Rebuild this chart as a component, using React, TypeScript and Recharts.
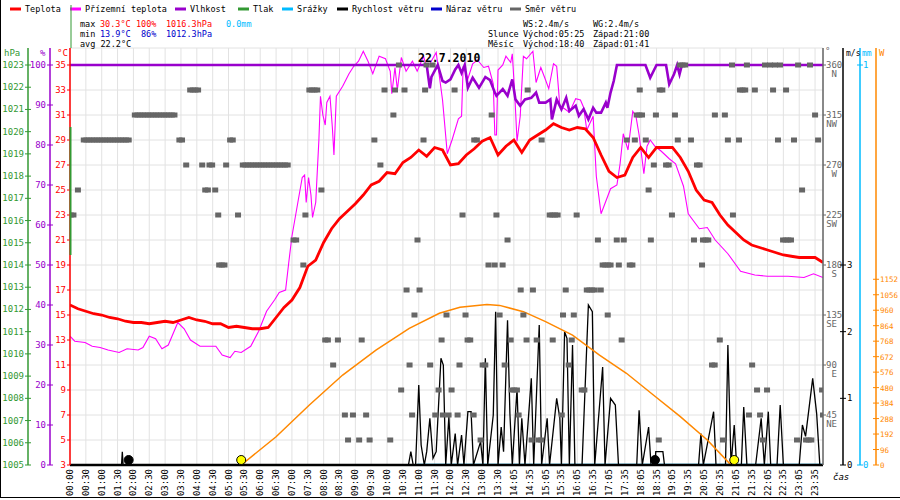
import React from 'react';
import { ComposedChart, Line, Scatter, XAxis, YAxis, CartesianGrid, ReferenceDot } from 'recharts';

const MONO = '"DejaVu Sans Mono", monospace';

// x values are half-hour slots (0 = 00:00), one label per slot
const timeLabels = [
  '00:00', '00:30', '01:00', '01:30', '02:00', '02:30', '03:00', '03:30', '04:00', '04:30',
  '05:00', '05:30', '06:00', '06:30', '07:00', '07:30', '08:00', '08:30', '09:00', '09:30',
  '10:00', '10:30', '11:00', '11:30', '12:00', '12:30', '13:00', '13:30', '14:05', '14:35',
  '15:05', '15:35', '16:05', '16:35', '17:05', '17:35', '18:05', '18:35', '19:05', '19:35',
  '20:05', '20:35', '21:05', '21:35', '22:05', '22:35', '23:05', '23:35',
];

// Teplota, every quarter slot (0, 0.5, 1 ... 47.5)
const tempValues = [
  15.8, 15.5, 15.3, 15.1, 15.0, 14.8, 14.7, 14.5, 14.4, 14.4,
  14.3, 14.4, 14.5, 14.4, 14.6, 14.8, 14.6, 14.5, 14.3, 14.3,
  14.0, 14.1, 14.0, 13.9, 13.9, 14.0, 14.8, 15.6, 16.2, 17.2,
  18.9, 19.4, 20.8, 21.9, 22.7, 23.3, 23.9, 24.6, 25.4, 25.7,
  26.4, 26.3, 27.2, 27.6, 28.2, 27.7, 28.4, 28.2, 27.0, 27.1,
  27.8, 28.3, 28.9, 29.2, 27.8, 28.5, 29.0, 28.0, 29.0, 29.4,
  29.8, 30.3, 30.0, 29.8, 30.0, 29.9, 29.2, 27.8, 26.5, 26.0,
  26.2, 27.6, 28.4, 27.6, 28.4, 28.4, 28.4, 27.6, 26.5, 25.0,
  24.2, 24.0, 23.0, 22.2, 21.6, 21.0, 20.6, 20.4, 20.2, 20.0,
  19.8, 19.7, 19.6, 19.6, 19.6, 19.2,
];

// Přízemní teplota [slot, °C]
const feelsLike: [number, number][] = [
  [0, 13.3], [0.3, 12.9], [0.95, 12.8], [1.4, 12.5], [1.9, 12.4], [2.4, 12.2], [3.1, 12.0], [3.6, 12.3],
  [4.3, 12.2], [4.6, 12.4], [5.0, 13.3], [5.4, 13.1], [5.8, 12.3], [6.2, 12.6], [6.8, 14.4], [7.2, 13.9],
  [7.6, 13.0], [8.2, 12.5], [8.6, 12.5], [9.2, 12.5], [9.6, 11.8], [10.1, 11.6], [10.4, 12.1], [10.8, 12.0],
  [11.4, 12.5], [11.9, 13.7], [12.4, 15.3], [12.9, 16.2], [13.2, 16.8], [13.6, 17.0], [13.8, 19.2], [14.0, 21.3],
  [14.4, 24.2], [14.65, 26.0], [14.8, 26.2], [14.9, 24.0], [15.05, 26.0], [15.2, 24.6], [15.3, 22.8], [15.5, 24.0],
  [15.7, 29.0], [15.8, 32.5], [15.95, 31.0], [16.1, 30.2], [16.2, 32.0], [16.4, 32.5], [16.55, 30.0], [16.65, 27.8],
  [16.8, 32.5], [17.2, 33.3], [17.6, 34.3], [17.9, 34.9], [18.2, 35.3], [18.5, 36.1], [18.8, 35.3], [19.1, 34.3],
  [19.5, 35.7], [19.9, 35.5], [20.2, 34.5], [20.3, 32.7], [20.5, 34.8], [20.65, 33.0], [20.9, 35.6], [21.2, 34.5],
  [21.6, 35.3], [21.9, 34.5], [22.3, 35.7], [22.5, 34.8], [22.7, 35.1], [23.1, 36.0], [23.5, 32.2], [23.8, 27.9],
  [24.1, 29.0], [24.5, 30.7], [24.7, 30.9], [24.8, 34.9], [25.1, 33.9], [25.4, 35.1], [25.7, 35.4], [26.1, 34.8],
  [26.4, 34.9], [26.7, 33.5], [26.8, 29.4], [26.9, 29.4], [27.0, 34.6], [27.3, 35.0], [27.5, 35.7], [27.8, 35.2],
  [27.9, 35.9], [28.05, 32.8], [28.2, 28.9], [28.4, 30.9], [28.6, 35.7], [28.8, 35.5], [29.2, 36.1], [29.4, 33.6],
  [29.7, 34.8], [30.0, 33.8], [30.2, 33.1], [30.5, 35.1], [30.7, 34.9], [30.9, 31.7], [31.2, 31.5], [31.5, 31.2],
  [31.9, 32.3], [32.2, 32.2], [32.4, 31.6], [32.6, 29.8], [33.0, 30.9], [33.2, 26.1], [33.5, 23.1], [33.8, 24.1],
  [34.1, 25.1], [34.5, 25.4], [34.7, 27.1], [34.9, 29.5], [35.2, 28.2], [35.5, 31.3], [35.7, 30.9], [35.9, 29.4],
  [36.2, 26.3], [36.4, 28.5], [36.6, 29.0], [36.9, 28.5], [37.3, 28.1], [37.8, 27.5], [38.2, 27.1], [38.7, 25.3],
  [39.0, 23.1], [39.7, 21.9], [40.2, 22.0], [40.7, 21.0], [41.5, 19.9], [42.3, 18.5], [43.2, 18.2], [44.0, 18.1],
  [45.3, 18.1], [46.3, 18.0], [46.9, 18.3], [47.5, 18.0],
];

// Vlhkost [slot, %]
const humidity: [number, number][] = [
  [0, 100], [22.5, 100], [22.7, 94.2], [22.8, 97], [23.2, 100], [23.5, 96], [23.7, 95.6], [24.0, 96.4],
  [24.3, 98.9], [24.5, 100], [24.7, 98], [24.9, 100], [25.1, 94.3], [25.4, 96.8], [25.8, 94.3], [26.2, 97],
  [26.5, 96.2], [26.8, 93.1], [26.9, 92.3], [27.3, 94], [27.6, 92.3], [27.9, 96.4], [28.1, 91.4], [28.4, 89.8],
  [28.7, 91.4], [29.1, 91.8], [29.4, 93.1], [29.6, 90.6], [30.0, 90.6], [30.3, 91.4], [30.4, 86.4], [30.7, 91.4],
  [31.0, 88.9], [31.3, 91.8], [31.5, 88.5], [31.9, 89.8], [32.1, 87.3], [32.4, 89], [32.7, 86.4], [33.0, 89.3],
  [33.2, 88.1], [33.5, 88.1], [33.8, 90.6], [33.9, 89.3], [34.1, 93.1], [34.3, 96], [34.5, 100], [36.3, 100],
  [36.6, 96.8], [37.0, 100], [37.6, 100], [37.8, 95.2], [38.1, 97.7], [38.3, 100], [38.45, 97.7], [38.6, 100],
  [47.5, 100],
];

// Rychlost větru [slot, m/s]
const windSpeed: [number, number][] = [
  [0, 0], [3.25, 0], [3.3, 0.2], [3.35, 0], [21.35, 0], [21.5, 0.2], [21.65, 0], [21.8, 0], [22.0, 1.2],
  [22.15, 0.3], [22.35, 0], [22.5, 0.2], [22.7, 0.7], [22.9, 0.1], [23.1, 0.2], [23.4, 1.6], [23.55, 1.5],
  [23.7, 0], [23.9, 0.72], [24.05, 0], [24.3, 0.47], [24.45, 0], [24.7, 0.45], [24.85, 0], [25.1, 0.8],
  [25.3, 0.8], [25.45, 0], [25.9, 0.35], [26.05, 0], [26.2, 1.6], [26.35, 0], [26.7, 0.75], [26.85, 2.3],
  [27.0, 0], [27.2, 0.57], [27.35, 0.2], [27.6, 2.17], [27.75, 0.77], [27.9, 0], [28.2, 1.15], [28.35, 0],
  [28.5, 0.7], [28.7, 0], [29.1, 1.3], [29.25, 0], [29.6, 2.1], [29.75, 0], [30.1, 0.7], [30.25, 0],
  [30.7, 1.0], [30.9, 0.7], [31.0, 0], [31.2, 2.0], [31.35, 1.9], [31.5, 0], [31.7, 1.8], [31.85, 0],
  [32.3, 0], [32.7, 2.4], [32.95, 2.3], [33.1, 0], [33.6, 1.47], [33.75, 0], [34.1, 1.0], [34.4, 0.9],
  [34.6, 0], [35.75, 0], [35.9, 0.82], [36.1, 0], [36.5, 0.57], [36.65, 0], [36.9, 0], [36.95, 0.2],
  [37.4, 0.2], [37.5, 0], [39.65, 0], [39.8, 0.47], [39.95, 0], [40.6, 0.8], [40.75, 0], [41.35, 0],
  [41.5, 1.8], [41.7, 0], [41.9, 0.6], [42.05, 0], [42.35, 0], [42.5, 0.87], [42.7, 0], [43.25, 0],
  [43.4, 0.3], [43.6, 0.7], [43.8, 0], [44.05, 0.8], [44.2, 0], [44.6, 0], [44.8, 0.9], [45.0, 0],
  [46.0, 0], [46.2, 0.6], [46.4, 0.43], [46.85, 1.3], [47.1, 0.77], [47.3, 0], [47.5, 0],
];

// sluneční záření [slot, W]
const solar: [number, number][] = [
  [10.8, 0], [13.0, 175], [15.1, 372], [17.2, 558], [19.3, 713], [21.4, 848], [23.3, 941], [24.6, 978],
  [26.3, 996], [27.1, 990], [28.6, 951], [30.0, 889], [31.7, 806], [33.4, 682], [35.1, 569], [36.8, 434],
  [38.5, 300], [40.2, 155], [41.6, 10], [41.7, 0],
];

// Srážky [slot, mm]
const rainfall: [number, number][] = [[21.9, 0], [47.5, 0]];

// Směr větru as runs of 5-minute samples: [from slot, to slot, compass step of 22.5°]
const windDirRuns: [number, number, number][] = [
  [20.75, 20.75, 16], [22.49, 22.49, 16], [22.87, 22.87, 16], [38.47, 38.91, 16], [41.76, 41.76, 16],
  [42.7, 42.7, 16], [43.84, 43.84, 16], [44.16, 44.16, 16], [44.47, 44.47, 16], [44.79, 44.79, 16],
  [45.93, 45.93, 16], [46.68, 46.68, 16],
  [7.58, 8.09, 15], [15.1, 15.67, 15], [19.84, 19.96, 15], [20.5, 20.5, 15], [21.1, 21.1, 15], [22.4, 22.4, 15],
  [24.26, 24.26, 15], [28.87, 28.87, 15], [35.94, 35.94, 15], [37.2, 37.5, 15], [42.26, 42.6, 15],
  [43.2, 43.2, 15], [44.35, 44.35, 15], [45.17, 45.17, 15],
  [4.09, 6.59, 14], [20.4, 20.4, 14], [26.6, 26.6, 14], [35.75, 36.13, 14], [36.96, 36.96, 14],
  [38.16, 38.16, 14], [40.68, 40.68, 14], [41.31, 41.31, 14], [47.0, 47.0, 14],
  [0.87, 3.71, 13], [6.9, 7.1, 13], [10.1, 10.3, 13], [19.2, 19.3, 13], [22.3, 22.3, 13], [25.5, 25.8, 13],
  [29.75, 29.75, 13], [35.12, 35.12, 13], [35.63, 35.63, 13], [36.32, 36.32, 13], [38.34, 38.34, 13],
  [39.17, 39.17, 13], [41.5, 41.5, 13], [42.2, 42.2, 13], [44.66, 44.66, 13], [45.67, 45.67, 13],
  [47.19, 47.19, 13],
  [7.33, 7.33, 12], [8.34, 8.34, 12], [8.8, 9.0, 12], [9.85, 9.85, 12], [10.9, 13.75, 12], [19.58, 19.58, 12],
  [36.83, 36.83, 12], [37.6, 37.8, 12], [39.55, 39.74, 12],
  [0.5, 0.57, 11], [8.53, 8.72, 11], [9.16, 9.16, 11], [15.86, 15.86, 11], [36.5, 36.5, 11], [46.18, 46.18, 11],
  [0.05, 0.25, 10], [9.35, 9.35, 10], [10.6, 10.66, 10], [14.85, 14.85, 10], [24.76, 24.76, 10],
  [26.9, 26.9, 10], [30.26, 30.76, 10], [31.96, 31.96, 10], [37.97, 37.97, 10], [41.82, 41.82, 10],
  [14.1, 14.4, 9], [21.92, 21.92, 9], [27.6, 27.6, 9], [33.3, 33.3, 9], [34.49, 34.49, 9], [34.93, 34.93, 9],
  [36.64, 36.64, 9], [39.36, 39.36, 9], [39.93, 40.37, 9], [44.98, 45.55, 9],
  [9.41, 9.79, 8], [14.72, 14.72, 8], [26.4, 26.4, 8], [26.79, 26.79, 8], [27.29, 27.29, 8],
  [33.6, 34.24, 8], [34.62, 34.62, 8], [35.31, 35.5, 8], [39.87, 39.87, 8],
  [21.23, 21.23, 7], [22.05, 22.05, 7], [28.43, 28.43, 7], [29.2, 29.2, 7], [31.27, 31.27, 7],
  [32.6, 33.16, 7], [33.48, 33.48, 7],
  [21.73, 21.73, 6], [23.75, 23.75, 6], [24.95, 24.95, 6], [27.1, 27.1, 6], [28.6, 28.6, 6],
  [31.1, 31.1, 6], [31.78, 31.78, 6], [33.92, 33.92, 6],
  [16.1, 16.3, 5], [16.9, 17.0, 5], [18.4, 18.5, 5], [23.44, 23.44, 5], [25.08, 25.33, 5], [27.8, 27.8, 5],
  [28.8, 28.8, 5], [29.44, 29.44, 5], [30.45, 30.45, 5], [31.65, 31.65, 5], [34.8, 34.8, 5], [40.99, 40.99, 5],
  [16.6, 16.7, 4], [21.42, 21.42, 4], [22.72, 22.72, 4], [24.57, 24.57, 4], [26.03, 26.28, 4],
  [27.42, 27.42, 4], [31.46, 31.46, 4], [40.5, 40.8, 4], [43.03, 43.03, 4],
  [20.89, 20.89, 3], [23.25, 23.25, 3], [24.07, 24.07, 3], [27.86, 28.24, 3], [32.28, 32.47, 3],
  [43.34, 43.34, 3], [43.97, 43.97, 3], [47.44, 47.44, 3],
  [17.34, 17.34, 2], [17.85, 17.95, 2], [18.68, 18.68, 2], [21.58, 21.58, 2], [23.04, 23.04, 2],
  [23.52, 23.52, 2], [23.88, 23.88, 2], [24.45, 24.45, 2], [25.46, 25.46, 2], [28.3, 28.3, 2],
  [31.02, 31.02, 2], [42.83, 42.83, 2], [43.53, 43.53, 2], [47.5, 47.5, 2],
  [17.54, 17.54, 1], [18.24, 18.24, 1], [18.9, 18.9, 1], [20.2, 20.2, 1], [25.9, 25.9, 1], [29.12, 29.12, 1],
  [29.56, 29.88, 1], [37.14, 37.14, 1], [41.19, 41.19, 1], [43.71, 43.71, 1], [45.86, 45.86, 1],
  [46.43, 46.87, 1],
];

const sunEvents = [10.8, 41.9];
const moonEvents = [3.7, 36.9];

const slotTicks = timeLabels.map((_, i) => i);
const tempTicks = Array.from({ length: 17 }, (_, i) => 3 + i * 2);
const humTicks = Array.from({ length: 11 }, (_, i) => i * 10);
const pressTicks = Array.from({ length: 19 }, (_, i) => 1005 + i);
const dirTicks = [45, 90, 135, 180, 225, 270, 315, 360];
const dirNames: Record<number, string> = { 45: 'NE', 90: 'E', 135: 'SE', 180: 'S', 225: 'SW', 270: 'W', 315: 'NW', 360: 'N' };
const speedTicks = [0, 1, 2, 3];
const rainTicks = [0, 1];
const solarTicks = Array.from({ length: 13 }, (_, i) => i * 96);

// plot area runs 17px above the top tick
const EXT = 17 / 400;

const tempData = tempValues.map((t, i) => ({ s: i * 0.5, t }));
const toRows = (pts: [number, number][]) => pts.map(([s, v]) => ({ s, v }));
const dirData: { s: number; d: number }[] = [];
windDirRuns.forEach(([a, b, k]) => {
  for (let s = a; s <= b + 0.001; s += 1 / 6) dirData.push({ s, d: k * 22.5 });
});

const RED = '#ff0000';
const MAGENTA = '#ff00ff';
const PURPLE = '#9900cc';
const GREEN = '#339933';
const CYAN = '#00bbff';
const ORANGE = '#ff8800';
const GREY = '#666666';
const NAVY = '#0000cc';

// recharts stacks same-side axes by id order, so ids are prefixed inner -> outer
const AX_T = 'l1temp';
const AX_H = 'l2hum';
const AX_P = 'l3press';
const AX_DIR = 'r1dir';
const AX_MS = 'r2speed';
const AX_MM = 'r3rain';
const AX_W = 'r4solar';

const leftTick = (color: string, cross: boolean) => (props: any) => {
  const { x, y, payload } = props;
  return (
    <g>
      <line x1={x - 3} x2={cross ? x + 3 : x} y1={y} y2={y} stroke={color} />
      <text x={x - 4} y={y + 3} textAnchor="end" fill={color} fontSize={9} fontFamily={MONO}>
        {payload.value}
      </text>
    </g>
  );
};

const rightTick = (color: string, gap: number, size: number) => (props: any) => {
  const { x, y, payload } = props;
  return (
    <g>
      <line x1={x - 3} x2={x + 3} y1={y} y2={y} stroke={color} />
      <text x={x + gap} y={y + 3} fill={color} fontSize={size} fontFamily={MONO}>
        {payload.value}
      </text>
    </g>
  );
};

const DirTick = (props: any) => {
  const { x, y, payload } = props;
  return (
    <g fill={GREY} fontSize={9} fontFamily={MONO}>
      <line x1={x} x2={x + 3} y1={y} y2={y} stroke={GREY} />
      <text x={x + 3} y={y + 3}>{payload.value}</text>
      <text x={x + 14} y={y + 12} textAnchor="end">{dirNames[payload.value]}</text>
    </g>
  );
};

const TimeTick = (props: any) => {
  const { x, y, payload } = props;
  return (
    <text
      transform={`translate(${x + 3},${y + 4}) rotate(-90)`}
      textAnchor="end"
      fontSize={9}
      fontFamily={MONO}
      fill="#000"
    >
      {timeLabels[payload.value]}
    </text>
  );
};

const DirSquare = (props: any) => {
  const { cx, cy } = props;
  return <rect x={cx - 3} y={cy - 2.5} width={6} height={5} fill={GREY} />;
};

const legendItems = [
  { label: 'Teplota', color: RED, x: 10 },
  { label: 'Přízemní teplota', color: MAGENTA, x: 70 },
  { label: 'Vlhkost', color: PURPLE, x: 175 },
  { label: 'Tlak', color: GREEN, x: 238 },
  { label: 'Srážky', color: CYAN, x: 282 },
  { label: 'Rychlost větru', color: '#000000', x: 337 },
  { label: 'Náraz větru', color: NAVY, x: 431 },
  { label: 'Směr větru', color: GREY, x: 510 },
];

const Header = () => (
  <svg
    width={900}
    height={500}
    style={{ position: 'absolute', left: 0, top: 0, pointerEvents: 'none' }}
    fontFamily={MONO}
    fontSize={8.5}
  >
    {legendItems.map((it) => (
      <g key={it.label}>
        <line x1={it.x} x2={it.x + 11} y1={9} y2={9} stroke={it.color} strokeWidth={3} />
        <text x={it.x + 15} y={12} fill="#000">{it.label}</text>
      </g>
    ))}

    <text y={27}>
      <tspan x={80} fill="#000">max</tspan>
      <tspan x={100} fill={RED}>30.3°C</tspan>
      <tspan x={136} fill={RED}>100%</tspan>
      <tspan x={166} fill={RED}>1016.3hPa</tspan>
      <tspan x={226} fill={CYAN}>0.0mm</tspan>
    </text>
    <text y={37}>
      <tspan x={80} fill="#000">min</tspan>
      <tspan x={100} fill={NAVY}>13.9°C</tspan>
      <tspan x={141} fill={NAVY}>86%</tspan>
      <tspan x={166} fill={NAVY}>1012.3hPa</tspan>
    </text>
    <text y={47}>
      <tspan x={80} fill="#000">avg 22.2°C</tspan>
    </text>

    <text y={27} fill="#000">
      <tspan x={523}>WS:2.4m/s</tspan>
      <tspan x={593}>WG:2.4m/s</tspan>
    </text>
    <text y={37} fill="#000">
      <tspan x={488}>Slunce</tspan>
      <tspan x={523}>Východ:05:25</tspan>
      <tspan x={593}>Západ:21:00</tspan>
    </text>
    <text y={47} fill="#000">
      <tspan x={488}>Měsíc</tspan>
      <tspan x={523}>Východ:18:40</tspan>
      <tspan x={593}>Západ:01:41</tspan>
    </text>

    <text x={418} y={61.5} fontSize={11.5} fontWeight="bold" fill="#000">22.7.2010</text>

    <text x={4} y={56} fill={GREEN} fontSize={9}>hPa</text>
    <text x={40} y={56} fill={PURPLE} fontSize={9}>%</text>
    <text x={57} y={56} fill={RED} fontSize={9}>°C</text>
    <text x={825} y={54} fill={GREY} fontSize={9}>°</text>
    <text x={846} y={56} fill="#000" fontSize={8}>m/s</text>
    <text x={862} y={56} fill={CYAN} fontSize={8}>mm</text>
    <text x={879} y={56} fill={ORANGE} fontSize={9}>W</text>
    <text x={833} y={480} fill="#000" fontSize={9} fontStyle="italic">čas</text>

    <line x1={71} x2={71} y1={5} y2={48} stroke={GREEN} />
    <line x1={70.5} x2={70.5} y1={127} y2={255} stroke={GREEN} strokeWidth={2} />
    <line x1={0.5} x2={0.5} y1={0} y2={498} stroke="#000" />
    <line x1={0} x2={900} y1={497.5} y2={497.5} stroke="#000" />
  </svg>
);

export default function App() {
  return (
    <div style={{ position: 'absolute', left: 0, top: 0, width: 900, height: 500, background: '#fff' }}>
      <ComposedChart width={900} height={500} margin={{ top: 48, right: 0, bottom: 0, left: 0 }}>
        <CartesianGrid yAxisId={AX_T} stroke="#e2e2e2" />
        <XAxis
          type="number"
          dataKey="s"
          domain={[0, 47.5]}
          allowDataOverflow
          ticks={slotTicks}
          interval={0}
          height={35}
          tickSize={0}
          tickMargin={0}
          tick={TimeTick}
          axisLine={{ stroke: '#000', strokeWidth: 2.5 }}
          tickLine={false}
        />
        <YAxis yAxisId={AX_T} orientation="left" width={20} domain={[3, 35 + 32 * EXT]} allowDataOverflow
          ticks={tempTicks} interval={0} tickSize={0} tickMargin={0} tick={leftTick(RED, false)}
          axisLine={{ stroke: RED, strokeWidth: 1.5 }} tickLine={false} />
        <YAxis yAxisId={AX_H} orientation="left" width={22} domain={[0, 100 + 100 * EXT]} allowDataOverflow
          ticks={humTicks} interval={0} tickSize={0} tickMargin={0} tick={leftTick(PURPLE, true)}
          axisLine={{ stroke: PURPLE, strokeWidth: 1.5 }} tickLine={false} />
        <YAxis yAxisId={AX_P} orientation="left" width={28} domain={[1005, 1023 + 18 * EXT]} allowDataOverflow
          ticks={pressTicks} interval={0} tickSize={0} tickMargin={0} tick={leftTick(GREEN, true)}
          axisLine={{ stroke: GREEN, strokeWidth: 1.5 }} tickLine={false} />
        <YAxis yAxisId={AX_DIR} orientation="right" width={20} domain={[0, 360 + 360 * EXT]} allowDataOverflow
          ticks={dirTicks} interval={0} tickSize={0} tickMargin={0} tick={DirTick}
          axisLine={{ stroke: GREY, strokeWidth: 1.5 }} tickLine={false} />
        <YAxis yAxisId={AX_MS} orientation="right" width={17} domain={[0, 6 + 6 * EXT]} allowDataOverflow
          ticks={speedTicks} interval={0} tickSize={0} tickMargin={0} tick={rightTick('#000', 4, 9)}
          axisLine={{ stroke: '#000', strokeWidth: 1.5 }} tickLine={false} />
        <YAxis yAxisId={AX_MM} orientation="right" width={16} domain={[0, 1 + EXT]} allowDataOverflow
          ticks={rainTicks} interval={0} tickSize={0} tickMargin={0} tick={rightTick(CYAN, 3, 9)}
          axisLine={{ stroke: CYAN, strokeWidth: 1.5 }} tickLine={false} />
        <YAxis yAxisId={AX_W} orientation="right" width={24} domain={[0, 2481 + 2481 * EXT]} allowDataOverflow
          ticks={solarTicks} interval={0} tickSize={0} tickMargin={0} tick={rightTick(ORANGE, 4, 7.5)}
          axisLine={{ stroke: ORANGE, strokeWidth: 1.5 }} tickLine={false} />

        <Line yAxisId={AX_MM} data={toRows(rainfall)} dataKey="v" stroke={CYAN} strokeWidth={2.5}
          dot={false} isAnimationActive={false} />
        <Line yAxisId={AX_MS} data={toRows(windSpeed)} dataKey="v" stroke="#000" strokeWidth={1.3}
          dot={false} isAnimationActive={false} />
        <Line yAxisId={AX_W} data={toRows(solar)} dataKey="v" stroke={ORANGE} strokeWidth={1.5}
          dot={false} isAnimationActive={false} />
        <Line yAxisId={AX_T} data={toRows(feelsLike)} dataKey="v" stroke={MAGENTA} strokeWidth={1.1}
          dot={false} isAnimationActive={false} />
        <Line yAxisId={AX_H} data={toRows(humidity)} dataKey="v" stroke={PURPLE} strokeWidth={2.6}
          dot={false} isAnimationActive={false} />
        <Scatter yAxisId={AX_DIR} data={dirData} dataKey="d" shape={DirSquare} isAnimationActive={false} />
        <Line yAxisId={AX_T} data={tempData} dataKey="t" stroke={RED} strokeWidth={2.8}
          dot={false} isAnimationActive={false} />

        {sunEvents.map((s) => (
          <ReferenceDot key={`sun${s}`} x={s} y={0.075} yAxisId={AX_MS} r={4.5} fill="#ffff00" stroke="#000" />
        ))}
        {moonEvents.map((s) => (
          <ReferenceDot key={`moon${s}`} x={s} y={0.075} yAxisId={AX_MS} r={4.5} fill="#000" stroke="#000" />
        ))}
      </ComposedChart>
      <Header />
    </div>
  );
}
